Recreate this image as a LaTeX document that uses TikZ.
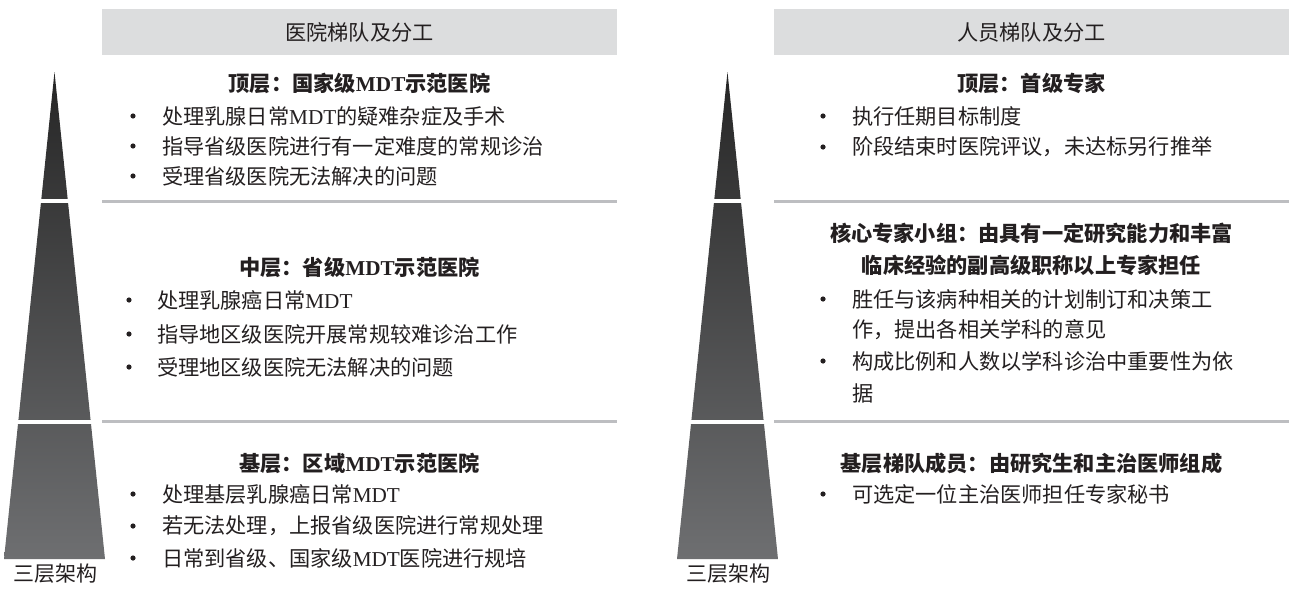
\documentclass[tikz,border=0pt]{standalone}
\usepackage{fontspec}
\setmainfont{Noto Sans CJK SC}
\newfontfamily\lat{Liberation Serif}
\definecolor{hdrgray}{HTML}{DCDDDE}
\definecolor{rulegray}{HTML}{BDBEC1}
\definecolor{txt}{HTML}{231F20}
\definecolor{pyrtop}{HTML}{262626}
\definecolor{pyrbot}{HTML}{6E6F71}
\begin{document}
\begin{tikzpicture}[x=1pt,y=-1pt,
  every node/.style={inner sep=0pt,outer sep=0pt,text=txt,font=\fontsize{21.2}{25}\selectfont},
  hdrbox/.style={fill=hdrgray,minimum width=515pt,minimum height=46pt,anchor=center},
  hd/.style={anchor=center,font=\fontsize{21.2}{25}\selectfont\bfseries},
  bul/.style={circle,fill=txt,minimum size=5.2pt,anchor=center},
  bt/.style={anchor=west},
  lbl/.style={anchor=center,font=\fontsize{21}{24}\selectfont}]
\useasboundingbox (0,0) rectangle (1293,589);
% pyramids
\foreach \dx in {0,673}{
  \shade[top color=pyrtop,bottom color=pyrbot] (54.5+\dx,72) -- (105+\dx,559) -- (4+\dx,559) -- cycle;
  \fill[white] (\dx,199) rectangle (110+\dx,203);
  \fill[white] (\dx,420) rectangle (110+\dx,424);
}
\node[lbl] (lab1) at (55,574) {三层架构};
\node[lbl] (lab2) at (728,574) {三层架构};
% headers
\node[hdrbox] (lh) at (359.5,32) {医院梯队及分工};
\node[hdrbox] (rh) at (1031.5,32) {人员梯队及分工};
% rules
\fill[rulegray] (102,199.5) rectangle (617,203);
\fill[rulegray] (102,419.5) rectangle (617,423);
\fill[rulegray] (774,199.5) rectangle (1289,203);
\fill[rulegray] (774,419.5) rectangle (1289,423);
% left top
\node[hd] (lt) at (359.5,83) {顶层：国家级{\lat\bfseries MDT}示范医院};
\node[bul] (ltb1) at (133,116) {};
\node[bt] (lt1) at (162,116) {处理乳腺日常{\lat MDT}的疑难杂症及手术};
\node[bul] (ltb2) at (133,146) {};
\node[bt] (lt2) at (162,146) {指导省级医院进行有一定难度的常规诊治};
\node[bul] (ltb3) at (133,176) {};
\node[bt] (lt3) at (162,176) {受理省级医院无法解决的问题};
% left middle
\node[hd] (lm) at (359.5,267) {中层：省级{\lat\bfseries MDT}示范医院};
\node[bul] (lmb1) at (129,300) {};
\node[bt] (lm1) at (157,300) {处理乳腺癌日常{\lat MDT}};
\node[bul] (lmb2) at (129,334) {};
\node[bt] (lm2) at (157,334) {指导地区级医院开展常规较难诊治工作};
\node[bul] (lmb3) at (129,367) {};
\node[bt] (lm3) at (157,367) {受理地区级医院无法解决的问题};
% left bottom
\node[hd] (lb) at (359.5,463) {基层：区域{\lat\bfseries MDT}示范医院};
\node[bul] (lbb1) at (133,494) {};
\node[bt] (lb1) at (162,494) {处理基层乳腺癌日常{\lat MDT}};
\node[bul] (lbb2) at (133,526) {};
\node[bt] (lb2) at (162,526) {若无法处理，上报省级医院进行常规处理};
\node[bul] (lbb3) at (133,558) {};
\node[bt] (lb3) at (162,558) {日常到省级、国家级{\lat MDT}医院进行规培};
% right top
\node[hd] (rt) at (1031.5,83) {顶层：首级专家};
\node[bul] (rtb1) at (823,116) {};
\node[bt] (rt1) at (852,116) {执行任期目标制度};
\node[bul] (rtb2) at (823,147) {};
\node[bt] (rt2) at (852,147) {阶段结束时医院评议，未达标另行推举};
% right middle
\node[hd] (rm1) at (1031.5,233) {核心专家小组：由具有一定研究能力和丰富};
\node[hd] (rm2) at (1031.5,265) {临床经验的副高级职称以上专家担任};
\node[bul] (rmb1) at (823,299) {};
\node[bt] (rm3) at (852,299) {胜任与该病种相关的计划制订和决策工};
\node[bt] (rm4) at (852,330) {作，提出各相关学科的意见};
\node[bul] (rmb2) at (823,361) {};
\node[bt] (rm5) at (852,361) {构成比例和人数以学科诊治中重要性为依};
\node[bt] (rm6) at (852,393) {据};
% right bottom
\node[hd] (rb) at (1031.5,463) {基层梯队成员：由研究生和主治医师组成};
\node[bul] (rbb1) at (823,494) {};
\node[bt] (rb1) at (852,494) {可选定一位主治医师担任专家秘书};
\end{tikzpicture}
\end{document}
